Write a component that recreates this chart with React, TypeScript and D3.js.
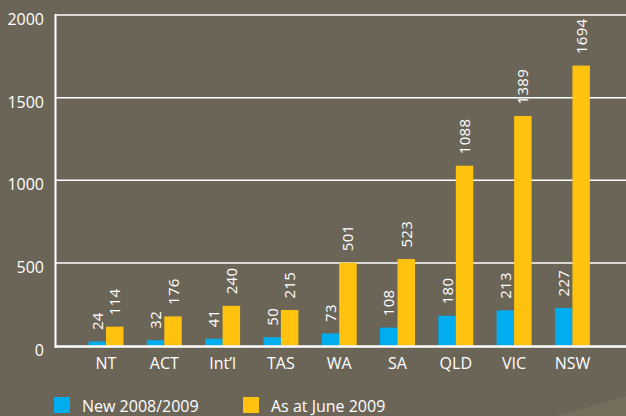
import React from "react";
import * as d3 from "d3";

const categories = ["NT", "ACT", "Int\u2019l", "TAS", "WA", "SA", "QLD", "VIC", "NSW"];
const newValues = [24, 32, 41, 50, 73, 108, 180, 213, 227];
const juneValues = [114, 176, 240, 215, 501, 523, 1088, 1389, 1694];
const seriesNames = ["New 2008/2009", "As at June 2009"];
const seriesColors = ["#00aeef", "#ffc20e"];
const yTicks = [0, 500, 1000, 1500, 2000];

const width = 626;
const height = 416;
const bg = "#6b6558";
const font = "'Open Sans', sans-serif";

const App: React.FC = () => {
  const x = d3
    .scaleBand<string>()
    .domain(categories)
    .range([71, 607.4])
    .paddingInner(0.4)
    .paddingOuter(0.3);

  const x1 = d3
    .scaleBand<string>()
    .domain(seriesNames)
    .range([0, x.bandwidth()]);

  const y = d3.scaleLinear().domain([0, 2000]).range([345.5, 15]);

  const series = [newValues, juneValues];

  return (
    <svg
      width={width}
      height={height}
      style={{ position: "absolute", left: 0, top: 0, display: "block" }}
    >
      <rect width={width} height={height} fill={bg} />
      <path d="M556,416 Q600,404 626,396 L626,416 Z" fill="#77715f" opacity={0.8} />

      {/* gridlines */}
      {yTicks.slice(1).map((t) => (
        <line
          key={t}
          x1={56}
          x2={width}
          y1={y(t)}
          y2={y(t)}
          stroke="#fff"
          strokeWidth={1.5}
        />
      ))}

      {/* tick labels */}
      {yTicks.map((t) => (
        <text
          key={t}
          x={44}
          y={y(t) + 10}
          textAnchor="end"
          fill="#fff"
          fontFamily={font}
          fontSize={16}
        >
          {t}
        </text>
      ))}

      {/* bars */}
      {categories.map((c, i) => (
        <g key={c} transform={`translate(${x(c)},0)`}>
          {series.map((vals, s) => (
            <rect
              key={s}
              x={x1(seriesNames[s])}
              y={y(vals[i])}
              width={x1.bandwidth()}
              height={y(0) - y(vals[i])}
              fill={seriesColors[s]}
            />
          ))}
          {series.map((vals, s) => {
            const cx = (x1(seriesNames[s]) as number) + x1.bandwidth() / 2;
            const ty = y(vals[i]) - 11.5;
            return (
              <text
                key={"l" + s}
                transform={`translate(${cx + 5.5},${ty}) rotate(-90)`}
                fill="#fff"
                fontFamily={font}
                fontSize={15}
                letterSpacing={0.3}
              >
                {vals[i]}
              </text>
            );
          })}
          <text
            x={x.bandwidth() / 2}
            y={368.5}
            textAnchor="middle"
            fill="#fff"
            fontFamily={font}
            fontSize={16}
          >
            {c}
          </text>
        </g>
      ))}

      {/* axes */}
      <line x1={55.5} x2={55.5} y1={14} y2={347.5} stroke="#fff" strokeWidth={2} />
      <line x1={54.5} x2={width} y1={y(0) + 1} y2={y(0) + 1} stroke="#fff" strokeWidth={2.5} />

      {/* legend */}
      {seriesNames.map((n, s) => (
        <g key={n} transform={`translate(${[54, 243][s]},397)`}>
          <rect width={16} height={16} fill={seriesColors[s]} />
          <text x={28} y={14.7} fill="#fff" fontFamily={font} fontSize={16}>
            {n}
          </text>
        </g>
      ))}
    </svg>
  );
};

export default App;
